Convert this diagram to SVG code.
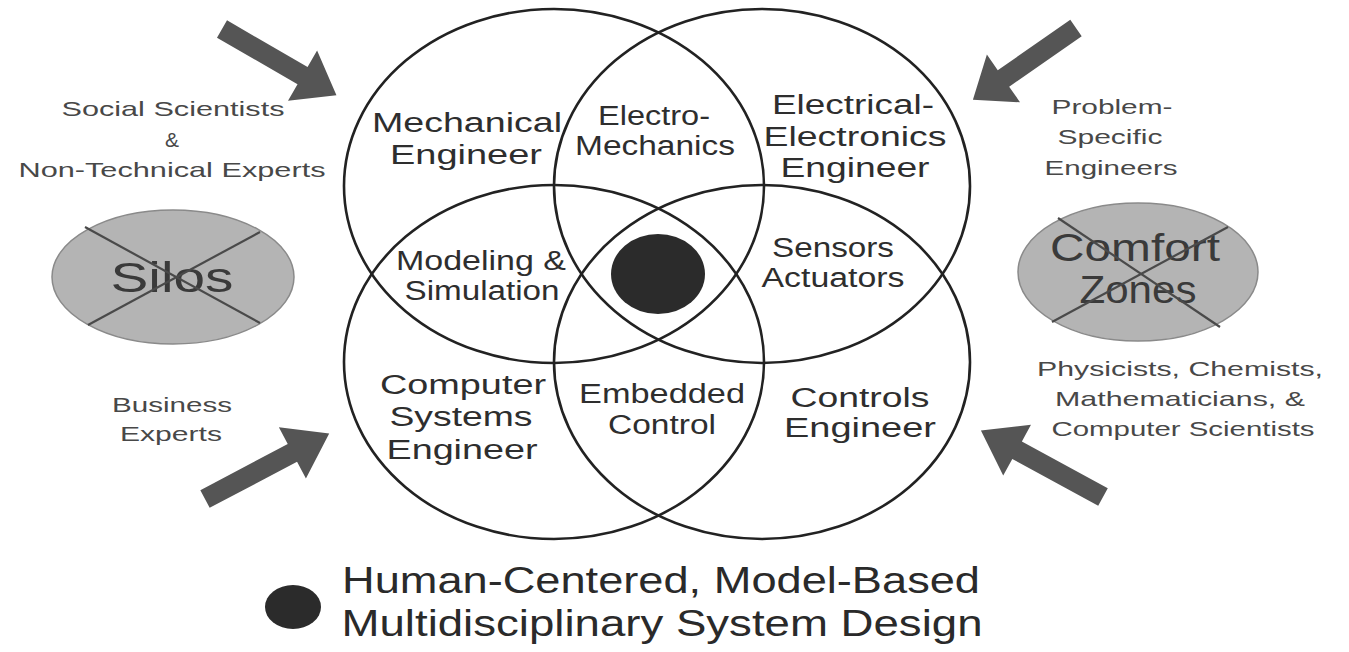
<svg xmlns="http://www.w3.org/2000/svg" width="1349" height="652" viewBox="0 0 1349 652">
<style>
text{font-family:"Liberation Sans",Arial,sans-serif;text-anchor:middle}
.lbl{font-size:27px;fill:#2e2e2e}
.side{font-size:21px;fill:#484848}
.leg{font-size:37px;fill:#2a2a2a}
.ring{fill:none;stroke:#222;stroke-width:2.6}
.oval{fill:#b4b4b4;stroke:#8a8a8a;stroke-width:1.5}
.cross{stroke:#4a4a4a;stroke-width:2.2}
.hand{font-size:42px;fill:#3a3a3a}
</style>
<defs>
<path id="arrow" d="M0,-10 L95,-10 L95,-29 L135,0 L95,29 L95,10 L0,10 Z" fill="#555"/>
</defs>
<rect width="1349" height="652" fill="#fff"/>

<g id="connectors">
<use href="#arrow" transform="translate(222,29) rotate(30.1) scale(0.98,1)"/>
<use href="#arrow" transform="translate(1076,28) rotate(145.2) scale(0.93,1)"/>
<use href="#arrow" transform="translate(205,499) rotate(-27.8) scale(1.04,1)"/>
<use href="#arrow" transform="translate(1103,497) rotate(-151.4) scale(1.03,1)"/>
</g>

<g id="mechanical">
<ellipse class="ring" cx="554" cy="186" rx="210" ry="177"/>
<text class="lbl" x="467" y="132" textLength="190" lengthAdjust="spacingAndGlyphs">Mechanical</text>
<text class="lbl" x="466" y="164" textLength="152" lengthAdjust="spacingAndGlyphs">Engineer</text>
</g>
<g id="electrical">
<ellipse class="ring" cx="762" cy="186" rx="208" ry="177"/>
<text class="lbl" x="853" y="114" textLength="162" lengthAdjust="spacingAndGlyphs">Electrical-</text>
<text class="lbl" x="855" y="146" textLength="183" lengthAdjust="spacingAndGlyphs">Electronics</text>
<text class="lbl" x="855" y="177" textLength="149" lengthAdjust="spacingAndGlyphs">Engineer</text>
</g>
<g id="computer">
<ellipse class="ring" cx="554" cy="362" rx="210" ry="177"/>
<text class="lbl" x="463" y="394" textLength="166" lengthAdjust="spacingAndGlyphs">Computer</text>
<text class="lbl" x="461" y="426" textLength="143" lengthAdjust="spacingAndGlyphs">Systems</text>
<text class="lbl" x="462" y="459" textLength="151" lengthAdjust="spacingAndGlyphs">Engineer</text>
</g>
<g id="controls">
<ellipse class="ring" cx="762" cy="362" rx="208" ry="177"/>
<text class="lbl" x="860" y="407" textLength="139" lengthAdjust="spacingAndGlyphs">Controls</text>
<text class="lbl" x="860" y="437" textLength="152" lengthAdjust="spacingAndGlyphs">Engineer</text>
</g>
<g id="electro-mechanics">
<text class="lbl" x="654" y="125" textLength="112" lengthAdjust="spacingAndGlyphs">Electro-</text>
<text class="lbl" x="655" y="155" textLength="160" lengthAdjust="spacingAndGlyphs">Mechanics</text>
</g>
<g id="modeling">
<text class="lbl" x="481" y="270" textLength="170" lengthAdjust="spacingAndGlyphs">Modeling &amp;</text>
<text class="lbl" x="482" y="300" textLength="155" lengthAdjust="spacingAndGlyphs">Simulation</text>
</g>
<g id="sensors">
<text class="lbl" x="833" y="257" textLength="122" lengthAdjust="spacingAndGlyphs">Sensors</text>
<text class="lbl" x="833" y="287" textLength="143" lengthAdjust="spacingAndGlyphs">Actuators</text>
</g>
<g id="embedded">
<text class="lbl" x="662" y="403" textLength="166" lengthAdjust="spacingAndGlyphs">Embedded</text>
<text class="lbl" x="662" y="434" textLength="108" lengthAdjust="spacingAndGlyphs">Control</text>
</g>
<g id="core">
<ellipse cx="658" cy="274" rx="47" ry="40" fill="#2b2b2b"/>
</g>

<g id="social">
<text class="side" x="173" y="116" textLength="223" lengthAdjust="spacingAndGlyphs">Social Scientists</text>
<text class="side" x="172" y="147">&amp;</text>
<text class="side" x="172" y="177" textLength="307" lengthAdjust="spacingAndGlyphs">Non-Technical Experts</text>
</g>
<g id="silos">
<ellipse class="oval" cx="173" cy="277" rx="121" ry="67"/>
<text class="hand" x="172" y="292" textLength="123" lengthAdjust="spacingAndGlyphs">Silos</text>
<line class="cross" x1="85" y1="227" x2="260" y2="323"/>
<line class="cross" x1="260" y1="232" x2="88" y2="325"/>
</g>
<g id="business">
<text class="side" x="172" y="412" textLength="120" lengthAdjust="spacingAndGlyphs">Business</text>
<text class="side" x="171" y="441" textLength="102" lengthAdjust="spacingAndGlyphs">Experts</text>
</g>
<g id="problem">
<text class="side" x="1112" y="114" textLength="121" lengthAdjust="spacingAndGlyphs">Problem-</text>
<text class="side" x="1110" y="144" textLength="105" lengthAdjust="spacingAndGlyphs">Specific</text>
<text class="side" x="1111" y="175" textLength="133" lengthAdjust="spacingAndGlyphs">Engineers</text>
</g>
<g id="comfort">
<ellipse class="oval" cx="1138" cy="272" rx="120" ry="69"/>
<text class="hand" x="1135" y="261" textLength="170" lengthAdjust="spacingAndGlyphs" style="font-size:38px">Comfort</text>
<text class="hand" x="1138" y="303" textLength="117" lengthAdjust="spacingAndGlyphs" style="font-size:38px">Zones</text>
<line class="cross" x1="1058" y1="218" x2="1220" y2="327"/>
<line class="cross" x1="1228" y1="227" x2="1052" y2="322"/>
</g>
<g id="physicists">
<text class="side" x="1180" y="376" textLength="286" lengthAdjust="spacingAndGlyphs">Physicists, Chemists,</text>
<text class="side" x="1180" y="406" textLength="250" lengthAdjust="spacingAndGlyphs">Mathematicians, &amp;</text>
<text class="side" x="1183" y="436" textLength="263" lengthAdjust="spacingAndGlyphs">Computer Scientists</text>
</g>
<g id="legend">
<ellipse cx="293" cy="607" rx="28" ry="22" fill="#2b2b2b"/>
<text class="leg" x="661" y="593" textLength="638" lengthAdjust="spacingAndGlyphs">Human-Centered, Model-Based</text>
<text class="leg" x="662" y="636" textLength="641" lengthAdjust="spacingAndGlyphs">Multidisciplinary System Design</text>
</g>
</svg>
